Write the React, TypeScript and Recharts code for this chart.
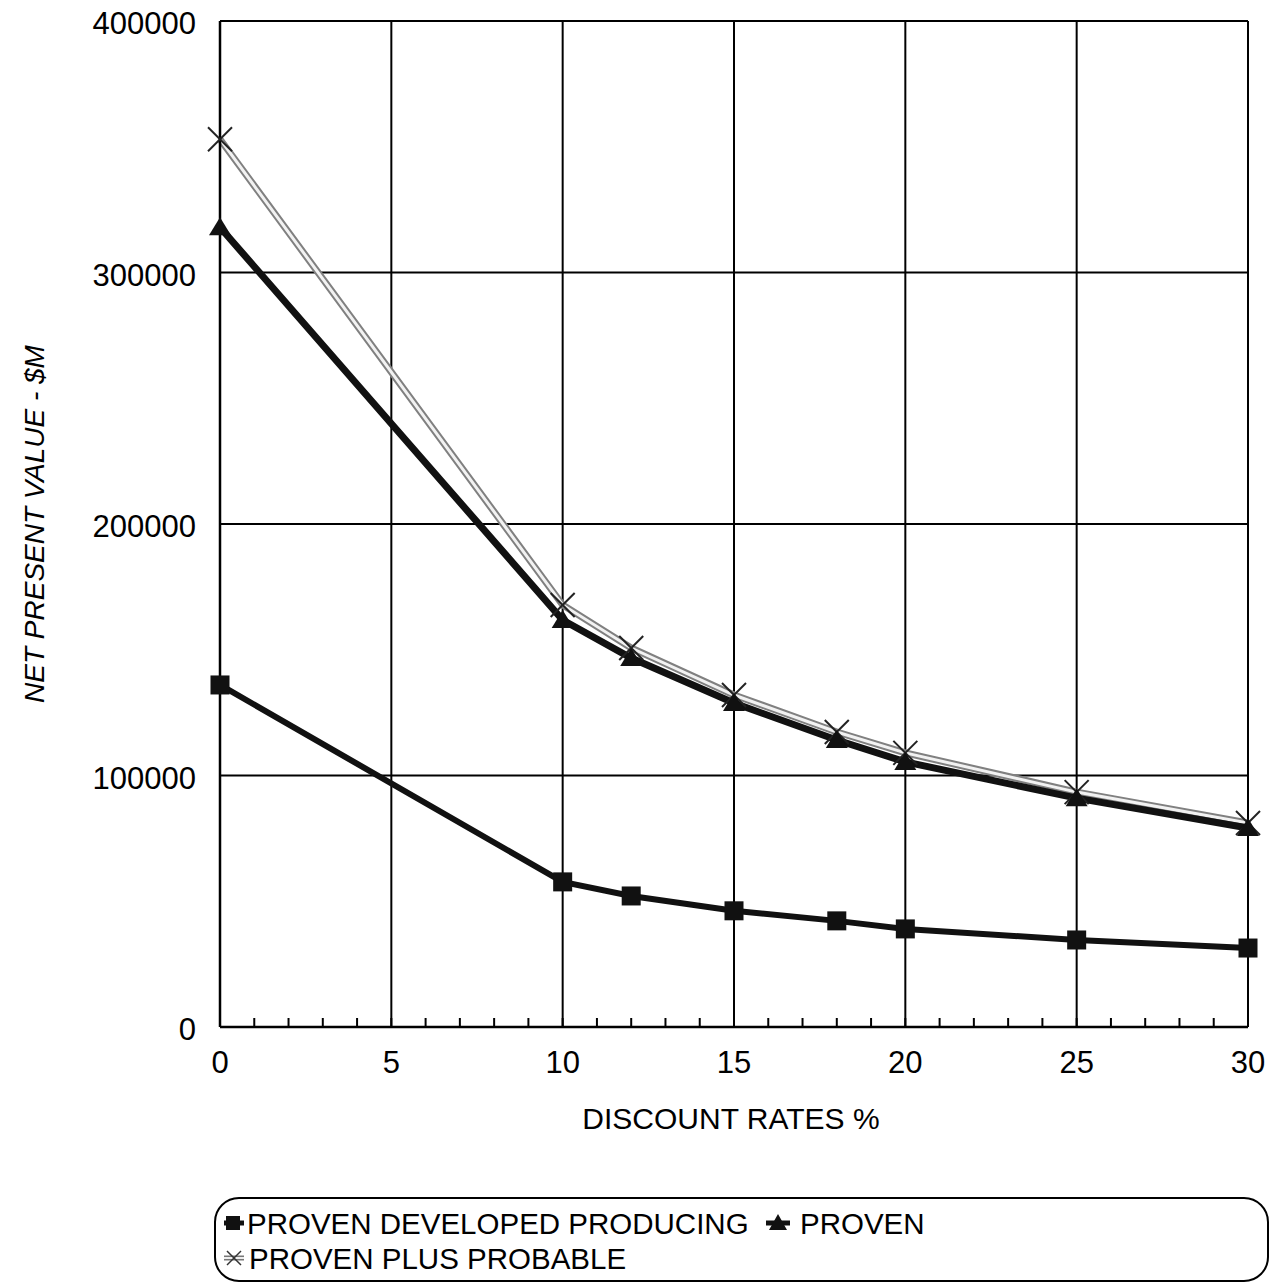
import React from "react";
import {
  LineChart,
  Line,
  XAxis,
  YAxis,
  CartesianGrid,
  ReferenceLine,
} from "recharts";

// Discount rates (%) at which NPV was evaluated
const RATES = [0, 10, 12, 15, 18, 20, 25, 30];
// Net present value, $M
const PDP = [136000, 57700, 52100, 46200, 42200, 39000, 34600, 31400];
const PROVEN = [318000, 161800, 146700, 128800, 114100, 105400, 91000, 79100];
const PROVEN_PLUS_PROBABLE = [353000, 167800, 150700, 132000, 117300, 109000, 93400, 81100];

const Y_TICKS = [0, 100000, 200000, 300000, 400000];
const X_TICKS = Array.from({ length: 31 }, (_, i) => i);
const X_GRID = [5, 10, 15, 20, 25, 30];

const SERIES_NAMES = ["PROVEN DEVELOPED PRODUCING", "PROVEN", "PROVEN PLUS PROBABLE"];

const data = RATES.map((rate, i) => ({
  rate,
  pdp: PDP[i],
  proven: PROVEN[i],
  ppp: PROVEN_PLUS_PROBABLE[i],
}));

const FONT = '"Liberation Sans", Arial, Helvetica, sans-serif';

const SquareDot = (props: any) => {
  const { cx, cy, index } = props;
  return <rect key={`sq-${index}`} x={cx - 9.5} y={cy - 9.5} width={19} height={19} fill="#111" />;
};

const TriangleDot = (props: any) => {
  const { cx, cy, index } = props;
  return (
    <polygon
      key={`tr-${index}`}
      points={`${cx},${cy - 10} ${cx - 11},${cy + 8} ${cx + 11},${cy + 8}`}
      fill="#111"
    />
  );
};

const CrossDot = (props: any) => {
  const { cx, cy, index } = props;
  const r = 12;
  return (
    <g key={`cr-${index}`} stroke="#222" strokeWidth={2}>
      <line x1={cx - r} y1={cy - r} x2={cx + r} y2={cy + r} />
      <line x1={cx - r} y1={cy + r} x2={cx + r} y2={cy - r} />
    </g>
  );
};

const XTick = (props: any) => {
  const { x, y, payload } = props;
  const v = payload.value;
  return (
    <g>
      <line x1={x} x2={x} y1={y} y2={y - 9} stroke="#000" strokeWidth={2} />
      {v % 5 === 0 && (
        <text x={x} y={y + 46} textAnchor="middle" fontSize={31} fontFamily={FONT} fill="#000">
          {v}
        </text>
      )}
    </g>
  );
};

const YTick = (props: any) => {
  const { x, y, payload } = props;
  return (
    <text x={x} y={y + 13} textAnchor="end" fontSize={31} fontFamily={FONT} fill="#000">
      {payload.value}
    </text>
  );
};

const Legend = () => (
  <svg
    width={1274}
    height={94}
    style={{ position: "absolute", left: 0, top: 1190 }}
    fontFamily={FONT}
  >
    <rect x={215} y={8} width={1053} height={83} rx={24} fill="none" stroke="#000" strokeWidth={2} />
    {/* row 1 */}
    <line x1={224} x2={244} y1={33} y2={33} stroke="#111" strokeWidth={5} />
    <rect x={226} y={26} width={14} height={14} fill="#111" />
    <text x={247} y={44} fontSize={29.5} fill="#000">{SERIES_NAMES[0]}</text>
    <line x1={766} x2={790} y1={33} y2={33} stroke="#111" strokeWidth={5} />
    <polygon points="778,24 769,40 787,40" fill="#111" />
    <text x={800} y={44} fontSize={29.5} fill="#000">{SERIES_NAMES[1]}</text>
    {/* row 2 */}
    <line x1={224} x2={244} y1={68} y2={68} stroke="#777" strokeWidth={5} />
    <line x1={224} x2={244} y1={68} y2={68} stroke="#eee" strokeWidth={2} />
    <g stroke="#333" strokeWidth={1.5}>
      <line x1={227} y1={61} x2={241} y2={75} />
      <line x1={227} y1={75} x2={241} y2={61} />
    </g>
    <text x={249} y={79} fontSize={29.5} fill="#000">{SERIES_NAMES[2]}</text>
  </svg>
);

export default function App() {
  return (
    <div style={{ position: "absolute", left: 0, top: 0, width: 1274, height: 1284, background: "#fff" }}>
      <LineChart
        width={1274}
        height={1150}
        data={data}
        margin={{ top: 21, right: 26, left: 0, bottom: 0 }}
      >
        <CartesianGrid vertical={false} stroke="#000" strokeWidth={2} />
        {X_GRID.map((v) => (
          <ReferenceLine key={v} x={v} stroke="#000" strokeWidth={2} ifOverflow="extendDomain" />
        ))}
        <XAxis
          dataKey="rate"
          type="number"
          domain={[0, 30]}
          ticks={X_TICKS}
          interval={0}
          height={123}
          tickLine={false}
          tickSize={0}
          tickMargin={0}
          axisLine={{ stroke: "#000", strokeWidth: 2.5 }}
          tick={<XTick />}
          label={{
            content: (p: any) => {
              const vb = p.viewBox;
              return (
                <text
                  x={vb.x + vb.width / 2 - 3}
                  y={vb.y + 102}
                  textAnchor="middle"
                  fontSize={30}
                  fontFamily={FONT}
                  fill="#000"
                >
                  DISCOUNT RATES %
                </text>
              );
            },
          }}
        />
        <YAxis
          type="number"
          domain={[0, 400000]}
          ticks={Y_TICKS}
          interval={0}
          width={220}
          tickLine={false}
          tickSize={0}
          tickMargin={24}
          axisLine={{ stroke: "#000", strokeWidth: 2.5 }}
          tick={<YTick />}
          label={{
            content: (p: any) => {
              const vb = p.viewBox;
              const cy = vb.y + vb.height / 2;
              return (
                <text
                  x={37}
                  y={cy}
                  transform={`rotate(-90, 37, ${cy})`}
                  textAnchor="middle"
                  dominantBaseline="middle"
                  fontSize={28}
                  fontStyle="italic"
                  fontFamily={FONT}
                  fill="#000"
                >
                  NET PRESENT VALUE - $M
                </text>
              );
            },
          }}
        />
        <Line
          dataKey="ppp"
          stroke="#808080"
          strokeWidth={7}
          dot={false}
          isAnimationActive={false}
        />
        <Line
          dataKey="ppp"
          stroke="#f2f2f2"
          strokeWidth={3}
          dot={CrossDot}
          isAnimationActive={false}
        />
        <Line
          dataKey="proven"
          stroke="#111"
          strokeWidth={7}
          dot={TriangleDot}
          isAnimationActive={false}
        />
        <Line
          dataKey="pdp"
          stroke="#111"
          strokeWidth={6}
          dot={SquareDot}
          isAnimationActive={false}
        />
      </LineChart>
      <Legend />
    </div>
  );
}
